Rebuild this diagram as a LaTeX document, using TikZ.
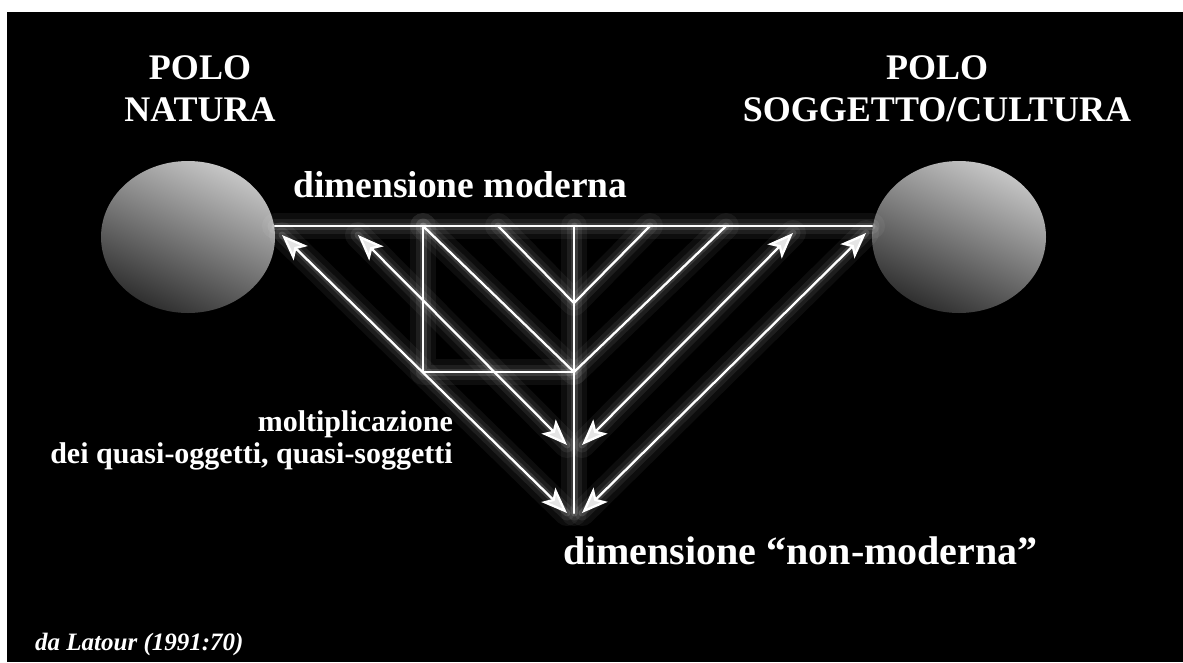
\documentclass[tikz,border=0pt]{standalone}
\usepackage{fontspec}
\setmainfont{Liberation Serif}
\usetikzlibrary{arrows.meta}

\begin{document}
\begin{tikzpicture}[x=1pt,y=-1pt,line cap=round,line join=round,
  glow/.style={draw=white,line width=2.3pt,
    preaction={draw=white,opacity=0.05,line width=26pt,arrows=-},
    preaction={draw=white,opacity=0.07,line width=15pt,arrows=-},
    preaction={draw=white,opacity=0.12,line width=7pt,arrows=-}},
  twoway/.style={glow,{Stealth[length=26pt,width=20pt,inset=6pt,fill=white!90!black]}-{Stealth[length=26pt,width=20pt,inset=6pt,fill=white!90!black]}},
  pole/.style={top color=black!22,middle color=black!42,bottom color=black!82,shading angle=-25},
  bigtxt/.style={text=white,inner sep=0pt,font=\fontsize{36}{42}\selectfont\bfseries},
  midtxt/.style={text=white,inner sep=0pt,font=\fontsize{37.5}{42}\selectfont\bfseries},
  smalltxt/.style={text=white,inner sep=0pt,font=\fontsize{30}{32}\selectfont\bfseries}]
  \useasboundingbox (0,0) rectangle (1183,662);
  \fill[white] (0,0) rectangle (1183,662);
  \fill[black] (7,12) rectangle (1183,662);
  % poles
  \coordinate (N) at (188,237);
  \coordinate (S) at (959,237);
  \shade[pole] (N) ellipse [x radius=87, y radius=76];
  \shade[pole] (S) ellipse [x radius=87, y radius=76];
  \node[bigtxt,align=center,anchor=north] (natura) at (200,55) {POLO\\NATURA};
  \node[bigtxt,align=center,anchor=north] (cultura) at (937,55) {POLO\\SOGGETTO/CULTURA};
  % modern dimension and its partition
  \coordinate (HL) at (275,226);
  \coordinate (HR) at (872,226);
  \coordinate (T1) at (423,226);
  \coordinate (T2) at (498,226);
  \coordinate (T0) at (574,226);
  \coordinate (T3) at (650,226);
  \coordinate (T4) at (726,226);
  \coordinate (V1) at (574,303);
  \coordinate (V2) at (574,372);
  \coordinate (B1) at (423,372);
  \coordinate (NM) at (574,513);
  \draw[glow] (HL) -- (HR);
  \draw[glow] (T0) -- (NM);
  \draw[glow] (T1) -- (B1) -- (V2);
  \draw[glow] (T1) -- (V2) -- (T4);
  \draw[glow] (T2) -- (V1) -- (T3);
  % quasi-objects
  \coordinate (L1) at (282,235);
  \coordinate (L2) at (358,235);
  \coordinate (R1) at (866,233);
  \coordinate (R2) at (793,233);
  \coordinate (D1) at (567,513);
  \coordinate (D2) at (567,445);
  \coordinate (E1) at (582,513);
  \coordinate (E2) at (582,445);
  \draw[twoway] (L1) -- (D1);
  \draw[twoway] (L2) -- (D2);
  \draw[twoway] (E1) -- (R1);
  \draw[twoway] (E2) -- (R2);
  \node[midtxt,anchor=base west] (moderna) at (293,197) {dimensione moderna};
  \node[midtxt,anchor=base west,font=\fontsize{40}{44}\selectfont\bfseries] (nonmoderna) at (563,564) {dimensione “non-moderna”};
  \node[smalltxt,align=right,anchor=north east] (quasi) at (453,410) {moltiplicazione\\dei quasi-oggetti, quasi-soggetti};
  \node[text=white,inner sep=0pt,anchor=base west,font=\fontsize{25}{28}\selectfont\bfseries\itshape] (fonte) at (35,650) {da Latour (1991:70)};
\end{tikzpicture}
\end{document}
